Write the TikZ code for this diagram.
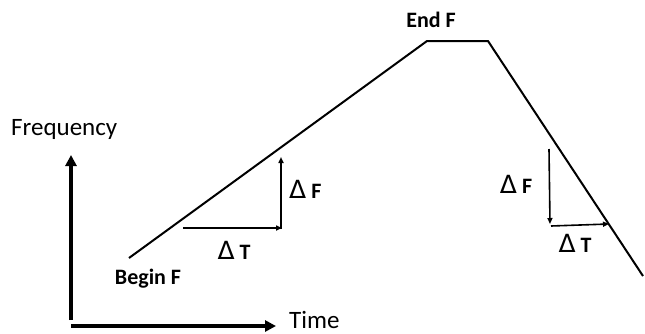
\documentclass[tikz,border=0pt]{standalone}
\usepackage{fontspec}
\setmainfont{Carlito}
\newfontfamily\symfont{DejaVu Sans}
\usetikzlibrary{arrows.meta}
\tikzset{
  axis/.style={line width=3.6pt,-{Triangle[length=11pt,width=11pt]}},
  curve/.style={line width=2pt,line join=miter},
  small/.style={line width=1.6pt,-{Triangle[length=6pt,width=5pt]}},
  lbl/.style={inner sep=0pt,font=\fontsize{25}{28}\selectfont},
  blbl/.style={inner sep=0pt,font=\bfseries\fontsize{22}{25}\selectfont},
}
\newcommand{\dlt}{{\symfont\fontsize{25}{27}\selectfont\mdseries Δ}\hspace{5pt}}
\begin{document}
\begin{tikzpicture}[x=1pt,y=-1pt]
\useasboundingbox (0,0) rectangle (645,333);
% axes
\coordinate (o) at (71,320);
\coordinate (fy) at (71,155);
\coordinate (ox) at (71,326);
\coordinate (tx) at (276,326);
\draw[axis] (o) -- (fy);
\draw[axis] (ox) -- (tx);
\node[lbl,anchor=base west] (freq) at (11,135) {Frequency};
\node[lbl,anchor=base west] (time) at (289,328) {Time};
% profile
\coordinate (b0) at (129,258);
\coordinate (p1) at (427,41);
\coordinate (p2) at (488,41);
\coordinate (e0) at (643,276);
\draw[curve] (b0) -- (p1) -- (p2) -- (e0);
\node[blbl,anchor=base] (beginf) at (148,284) {Begin F};
\node[blbl,anchor=base east] (endf) at (456,27) {End F};
% left triangle
\coordinate (l1) at (183,228);
\coordinate (l2) at (282,228);
\coordinate (l2b) at (281,229);
\coordinate (l3) at (281,157);
\draw[small] (l1) -- (l2);
\draw[small] (l2b) -- (l3);
\node[blbl,anchor=base west] (dfl) at (289,198) {\dlt F};
\node[blbl,anchor=base] (dtl) at (234,259) {\dlt T};
% right triangle
\coordinate (r1) at (549,149);
\coordinate (r2) at (550,224);
\coordinate (r3) at (551,226);
\coordinate (r4) at (609,224);
\draw[small] (r1) -- (r2);
\draw[small] (r3) -- (r4);
\node[blbl,anchor=base] (dfr) at (516,193) {\dlt F};
\node[blbl,anchor=base] (dtr) at (575,252) {\dlt T};
\end{tikzpicture}
\end{document}
